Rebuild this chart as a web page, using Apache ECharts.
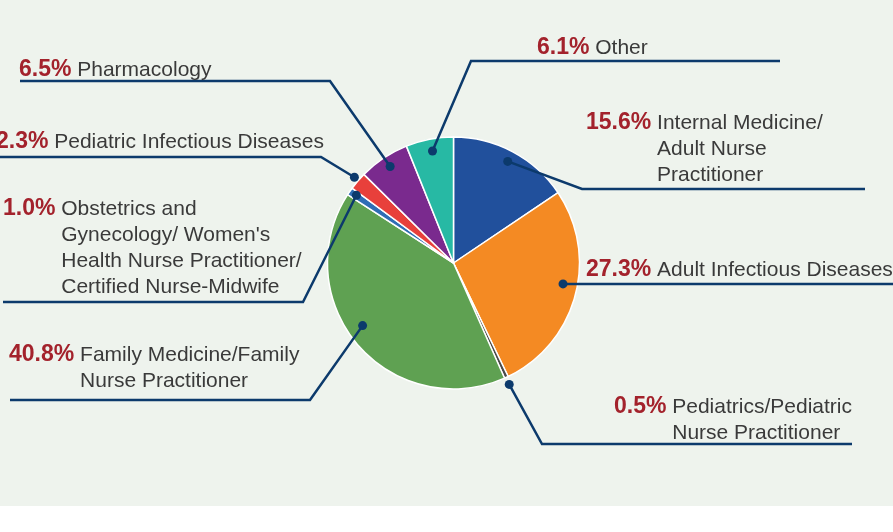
<!DOCTYPE html>
<html>
<head>
<meta charset="utf-8">
<script src="https://cdn.jsdelivr.net/npm/echarts@6/dist/echarts.min.js"></script>
<style>
  html, body { margin: 0; padding: 0; background: #fff; }
  #chart { width: 893px; height: 506px; }
</style>
</head>
<body>
<div id="chart"></div>
<script>
  // slices, clockwise from 12 o'clock
  const specialties = [
    ['Internal Medicine/', 'Adult Nurse', 'Practitioner'],
    ['Adult Infectious Diseases'],
    ['Pediatrics/Pediatric', 'Nurse Practitioner'],
    ['Family Medicine/Family', 'Nurse Practitioner'],
    ['Obstetrics and', "Gynecology/ Women's", 'Health Nurse Practitioner/', 'Certified Nurse-Midwife'],
    ['Pediatric Infectious Diseases'],
    ['Pharmacology'],
    ['Other']
  ]
  const shares = [15.6, 27.3, 0.5, 40.8, 1.0, 2.3, 6.5, 6.1]
  const sliceColors = ['#21509c', '#f48a23', '#4a4a4a', '#5fa152', '#2f6db5', '#e8403b', '#7a2a8e', '#27b9a4']

  // where each leader starts (fraction of radius) and small angle nudges (in %)
  const dotRadius = [0.914, 0.885, 1.06, 0.876, 0.94, 1.04, 0.916, 0.904]
  const dotNudge = [0, -1.25, 0, 1.6, 0, 0, 0, 0]
  // label placement: [textLeft, textTop, elbowX, elbowY, lineEndX]
  const labelPlaces = [
    [586, 110, 582, 189, 865],
    [586, 257, 580, 284, 893],
    [614, 394, 542, 444, 852],
    [9, 342, 310, 400, 10],
    [3, 196, 303, 302, 3],
    [-4, 129, 321, 157, 0],
    [19, 57, 330, 81, 20],
    [537, 35, 471, 61, 780]
  ]

  const CX = 453.5, CY = 263, R = 126
  const FONT = '"Liberation Sans", Arial, Helvetica, sans-serif'
  const LINE = '#0c3a6c'

  const ctx = document.createElement('canvas').getContext('2d')
  function textWidth(str, font) {
    ctx.font = font
    return ctx.measureText(str).width
  }

  let cum = 0
  const midPct = shares.map(function(v, i) {
    const m = cum + v / 2 + dotNudge[i]
    cum += v
    return m
  })

  function dotPixel(i) {
    const a = midPct[i] / 100 * Math.PI * 2
    const r = dotRadius[i] * R
    return [CX + r * Math.sin(a), CY - r * Math.cos(a)]
  }

  const rich = {
    p: { fontFamily: FONT, fontWeight: 'bold', fontSize: 23, color: '#a3222c', lineHeight: 26 },
    n: { fontFamily: FONT, fontSize: 21, color: '#3a3a3a', lineHeight: 26 }
  }
  const labelData = shares.map(function(v, i) {
    const pct = v.toFixed(1) + '%'
    const indent = textWidth(pct, 'bold 23px ' + FONT) + textWidth(' ', '21px ' + FONT)
    rich['i' + i] = { width: indent, fontSize: 21, lineHeight: 26 }
    const lines = specialties[i]
    let text = '{p|' + pct + '}{n| ' + lines[0] + '}'
    for (let k = 1; k < lines.length; k++) {
      text += '\n{i' + i + '| }{n|' + lines[k] + '}'
    }
    return { name: lines.join(' '), value: v, label: { formatter: text } }
  })
  const sliceData = shares.map(function(v, i) {
    return { name: specialties[i].join(' '), value: v, itemStyle: { color: sliceColors[i] } }
  })

  const chart = echarts.init(document.getElementById('chart'))
  chart.setOption({
    backgroundColor: '#eef3ed',
    animation: false,
    polar: { center: [CX, CY], radius: R * 1.2 },
    angleAxis: { type: 'value', min: 0, max: 100, startAngle: 90, clockwise: true, show: false },
    radiusAxis: { type: 'value', min: 0, max: 1.2, show: false },
    series: [{
      // the slices
      type: 'pie',
      center: [CX, CY],
      radius: R,
      startAngle: 90,
      clockwise: true,
      z: 2,
      emphasis: { disabled: true },
      itemStyle: { borderColor: '#ffffff', borderWidth: 1.5 },
      label: { show: false },
      labelLine: { show: false },
      data: sliceData
    }, {
      // same pie again, invisible, only for labels and leader lines on top
      type: 'pie',
      center: [CX, CY],
      radius: R,
      startAngle: 90,
      clockwise: true,
      z: 4,
      silent: true,
      avoidLabelOverlap: false,
      emphasis: { disabled: true },
      itemStyle: { color: 'rgba(0,0,0,0)', borderWidth: 0 },
      label: { show: true, position: 'outside', rich: rich },
      labelLine: {
        show: true, length: 10, length2: 10, smooth: false,
        lineStyle: { color: LINE, width: 2.5 }
      },
      labelLayout: function(params) {
        const i = params.dataIndex
        const pl = labelPlaces[i]
        return {
          x: pl[0],
          y: pl[1],
          align: 'left',
          verticalAlign: 'top',
          labelLinePoints: [dotPixel(i), [pl[2], pl[3]], [pl[4], pl[3]]]
        }
      },
      data: labelData
    }, {
      type: 'scatter',
      coordinateSystem: 'polar',
      symbol: 'circle',
      symbolSize: 9,
      z: 5,
      silent: true,
      itemStyle: { color: LINE, opacity: 1 },
      data: shares.map(function(v, i) { return [dotRadius[i], midPct[i]] })
    }]
  })
</script>
</body>
</html>
